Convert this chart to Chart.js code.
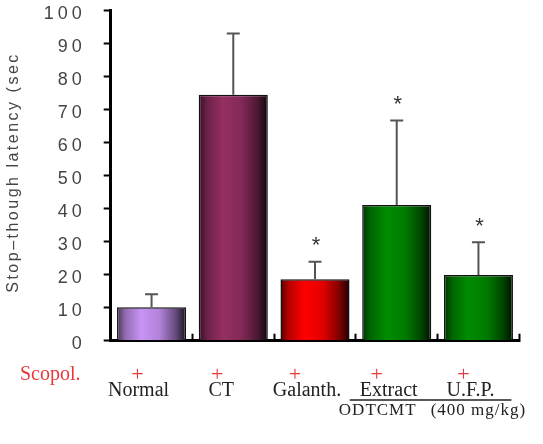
<!DOCTYPE html>
<html><head><meta charset="utf-8">
<script src="https://cdn.jsdelivr.net/npm/chart.js@4.4.1/dist/chart.umd.min.js"></script>
<style>html,body{margin:0;padding:0;background:#fff}canvas{display:block}</style>
</head><body>
<canvas id="c" width="543" height="444"></canvas>
<script>
// ---- data ----
const categories = ['Normal', 'CT', 'Galanth.', 'Extract', 'U.F.P.'];
const means = [10.1, 74.5, 18.6, 41.1, 19.9];
const errors = [4.0, 18.6, 5.3, 25.6, 9.9];
const significant = [false, false, true, true, true];
const scopolamine = ['+', '+', '+', '+', '+'];
const rowLabel = 'Scopol.';
const groupLabel = 'ODTCMT';
const doseLabel = '(400 mg/kg)';
const yTickValues = [0, 10, 20, 30, 40, 50, 60, 70, 80, 90, 100];
const yTitle = 'Stop\u2013though latency (sec';
const baseColors = ['#c994f5', '#952f63', '#ff0000', '#008c00', '#008c00'];

function shade(hex, f) {
  const n = parseInt(hex.slice(1), 16);
  const r = n >> 16, g = (n >> 8) & 255, b = n & 255;
  return 'rgb(' + Math.round(r * f) + ',' + Math.round(g * f) + ',' + Math.round(b * f) + ')';
}
const BAR_PCT = 0.845;
function barFill(ctx) {
  const chart = ctx.chart, area = chart.chartArea, xs = chart.scales.x;
  const base = baseColors[ctx.dataIndex];
  if (!area || !xs) return base;
  const w = (area.right - area.left) / categories.length * BAR_PCT;
  const cx = xs.getPixelForValue(ctx.dataIndex);
  const g = chart.ctx.createLinearGradient(cx - w / 2, 0, cx + w / 2, 0);
  g.addColorStop(0, shade(base, 0.35));
  g.addColorStop(0.12, shade(base, 0.72));
  g.addColorStop(0.35, shade(base, 1));
  g.addColorStop(0.62, shade(base, 0.88));
  g.addColorStop(0.85, shade(base, 0.5));
  g.addColorStop(1, shade(base, 0.12));
  return g;
}

const decor = {
  id: 'decor',
  beforeDraw(chart) { chart.ctx.letterSpacing = '4px'; },
  afterDatasetsDraw(chart) {
    const ctx = chart.ctx, xs = chart.scales.x, ys = chart.scales.y;
    ctx.save();
    ctx.letterSpacing = '0px';
    for (let i = 0; i < categories.length; i++) {
      const x = xs.getPixelForValue(i);
      const y0 = ys.getPixelForValue(means[i]);
      const y1 = ys.getPixelForValue(means[i] + errors[i]);
      ctx.strokeStyle = '#555';
      ctx.lineWidth = 2;
      ctx.beginPath();
      ctx.moveTo(x, y0); ctx.lineTo(x, y1);
      ctx.moveTo(x - 6.5, y1); ctx.lineTo(x + 6.5, y1);
      ctx.stroke();
      if (significant[i]) {
        ctx.fillStyle = '#333';
        ctx.font = '22px "Liberation Sans"';
        ctx.textAlign = 'center';
        ctx.textBaseline = 'alphabetic';
        ctx.fillText('*', x + 1, y1 - 22 + 12.5);
      }
    }
    ctx.restore();
  },
  afterDraw(chart) {
    const ctx = chart.ctx, xs = chart.scales.x;
    ctx.save();
    ctx.letterSpacing = '0px';
    // y title
    ctx.save();
    ctx.translate(14, 172.5);
    ctx.rotate(-Math.PI / 2);
    ctx.letterSpacing = '2.5px';
    ctx.font = '16px "Liberation Sans"';
    ctx.fillStyle = '#444';
    ctx.textAlign = 'center';
    ctx.textBaseline = 'middle';
    ctx.fillText(yTitle, 0, 0);
    ctx.restore();

    ctx.letterSpacing = '0px';
    ctx.font = '20px "Liberation Serif"';
    ctx.fillStyle = '#e8383c';
    ctx.textAlign = 'left';
    ctx.textBaseline = 'alphabetic';
    ctx.fillText(rowLabel, 20, 380);

    const plusShift = [-14, -16, -20, -20, -15];
    const labelShift = [-13, -12, -8, -8, -8];
    for (let i = 0; i < categories.length; i++) {
      const x = xs.getPixelForValue(i);
      ctx.font = '22px "Liberation Serif"';
      ctx.fillStyle = '#e8383c';
      ctx.textAlign = 'center';
      ctx.fillText(scopolamine[i], x + plusShift[i], 381);
      ctx.font = '20px "Liberation Serif"';
      ctx.fillStyle = '#222';
      ctx.fillText(categories[i], x + labelShift[i], 395.5);
    }
    // group underline
    const xa = xs.getPixelForValue(3), xb = xs.getPixelForValue(4);
    ctx.strokeStyle = '#222';
    ctx.lineWidth = 1.5;
    ctx.beginPath();
    ctx.moveTo(xa - 47, 400); ctx.lineTo(xb + 33, 400);
    ctx.stroke();
    ctx.font = '17px "Liberation Serif"';
    ctx.letterSpacing = '1px';
    ctx.fillStyle = '#222';
    ctx.textAlign = 'center';
    ctx.fillText(groupLabel, xa - 19, 415);
    ctx.fillText(doseLabel, xb, 415);
    ctx.restore();
  }
};

new Chart(document.getElementById('c'), {
  type: 'bar',
  data: {
    labels: categories,
    datasets: [{
      data: means,
      backgroundColor: barFill,
      borderColor: '#111',
      borderWidth: 1.5,
      barPercentage: BAR_PCT,
      categoryPercentage: 1
    }]
  },
  options: {
    responsive: false,
    animation: false,
    devicePixelRatio: 1,
    layout: { padding: { top: 10.7, right: 23.7, left: 0, bottom: 0 } },
    plugins: { legend: { display: false }, tooltip: { enabled: false } },
    scales: {
      x: {
        grid: { display: true, offset: true, drawOnChartArea: false, drawTicks: true, tickLength: -7, tickWidth: 2, tickColor: '#000' },
        border: { display: true, color: '#000', width: 3 },
        ticks: { display: false },
        afterFit(s) { s.height = 444 - 340.7; s.paddingLeft = 0; s.paddingRight = 0; }
      },
      y: {
        min: 0, max: 100,
        afterBuildTicks(s) { s.ticks = yTickValues.map(v => ({ value: v })); },
        ticks: { font: { family: 'Liberation Sans', size: 18 }, color: '#444', padding: 18, labelOffset: 3.5 },
        grid: { drawOnChartArea: false, drawTicks: true, tickLength: 7, tickWidth: 2, tickColor: '#000' },
        border: { display: true, color: '#000', width: 3 },
        afterFit(s) { s.width = 110.7; s.paddingTop = 0; s.paddingBottom = 0; }
      }
    }
  },
  plugins: [decor]
});
</script>
</body></html>
